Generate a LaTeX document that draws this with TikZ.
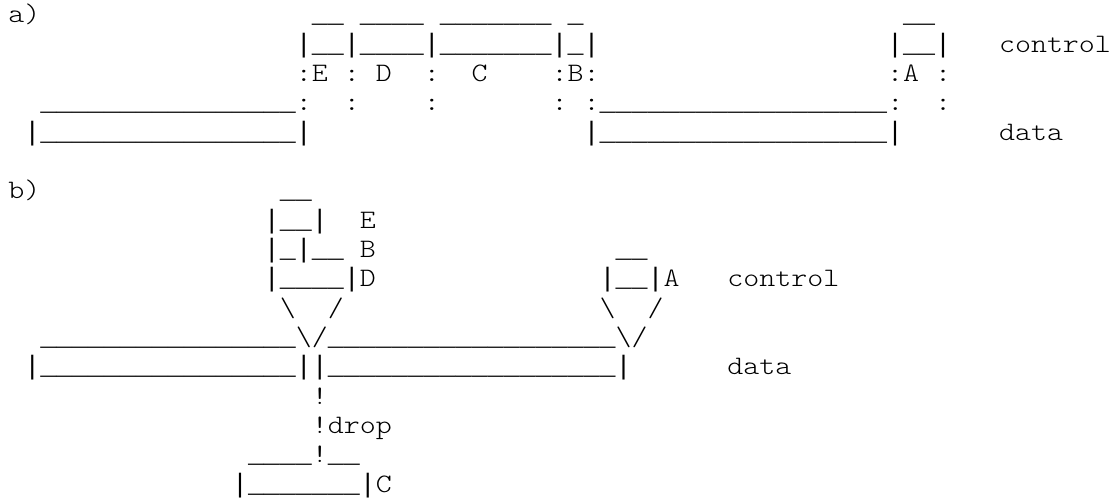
\documentclass[tikz,border=0pt]{standalone}
\usepackage{fontspec}
\setmonofont{Latin Modern Mono Light}[FakeStretch=1.142857]
\newfontfamily\boxfont{Liberation Mono}
\ExplSyntaxOn
\cs_new:Npn \myus #1 { {\boxfont \prg_replicate:nn {#1} { \_ } } }
\ExplSyntaxOff
\newcommand\bs{\textbackslash}
\newcommand\vb{{\boxfont|}}
\tikzset{ascii/.style={anchor=base west, inner sep=0pt, outer sep=0pt,
  font=\ttfamily\fontsize{19.975pt}{22pt}\selectfont, text=black}}
\begin{document}
\begin{tikzpicture}[x=11.985pt,y=-22pt]
\useasboundingbox[fill=white] (0pt,0pt) rectangle (840pt,-375pt);
\begin{scope}[xshift=6.225pt,yshift=4.77pt,every node/.style={ascii}]
% ---- a) ----
\node (ra) at (0,1) {a)};
\node (t1) at (19,1) {\myus{2}};
\node (t2) at (22,1) {\myus{4}};
\node (t3) at (27,1) {\myus{7}};
\node (t4) at (35,1) {\myus{1}};
\node (t5) at (56,1) {\myus{2}};
\node (boxes) at (18,2) {\vb\myus{2}\vb\myus{4}\vb\myus{7}\vb\myus{1}\vb};
\node (boxA) at (55,2) {\vb\myus{2}\vb};
\node (ctlA) at (62,2) {control};
\node (lE) at (18,3) {:E};
\node (c21) at (21,3) {:};
\node (lD) at (23,3) {D};
\node (c26) at (26,3) {:};
\node (lC) at (29,3) {C};
\node (lB) at (34,3) {:B:};
\node (lA) at (55,3) {:A};
\node (c58) at (58,3) {:};
\node (d1) at (2,4) {\myus{16}:};
\node (d2) at (21,4) {:};
\node (d3) at (26,4) {:};
\node (d4) at (34,4) {:};
\node (d5) at (36,4) {:\myus{18}:};
\node (d6) at (58,4) {:};
\node (e1) at (1,5) {\vb\myus{16}\vb};
\node (e2) at (36,5) {\vb\myus{18}\vb};
\node (dataA) at (62,5) {data};
% ---- b) ----
\node (rb) at (0,7) {b)};
\node (u1) at (17,7) {\myus{2}};
\node (bE) at (16,8) {\vb\myus{2}\vb};
\node (tE) at (22,8) {E};
\node (bB) at (16,9) {\vb\myus{1}\vb\myus{2}};
\node (tB) at (22,9) {B};
\node (u2) at (38,9) {\myus{2}};
\node (bD) at (16,10) {\vb\myus{4}\vb D};
\node (bA) at (37,10) {\vb\myus{2}\vb A};
\node (ctlB) at (45,10) {control};
\node (s1) at (17,11) {\bs};
\node (s2) at (20,11) {/};
\node (s3) at (37,11) {\bs};
\node (s4) at (40,11) {/};
\node (f1) at (2,12) {\myus{16}\bs/\myus{18}\bs/};
\node (g1) at (1,13) {\vb\myus{16}\vb\vb\myus{18}\vb};
\node (dataB) at (45,13) {data};
\node (x1) at (19,14) {!};
\node (x2) at (19,15) {!drop};
\node (x3) at (15,16) {\myus{4}!\myus{2}};
\node (bC) at (14,17) {\vb\myus{7}\vb C};
\end{scope}
\end{tikzpicture}
\end{document}
